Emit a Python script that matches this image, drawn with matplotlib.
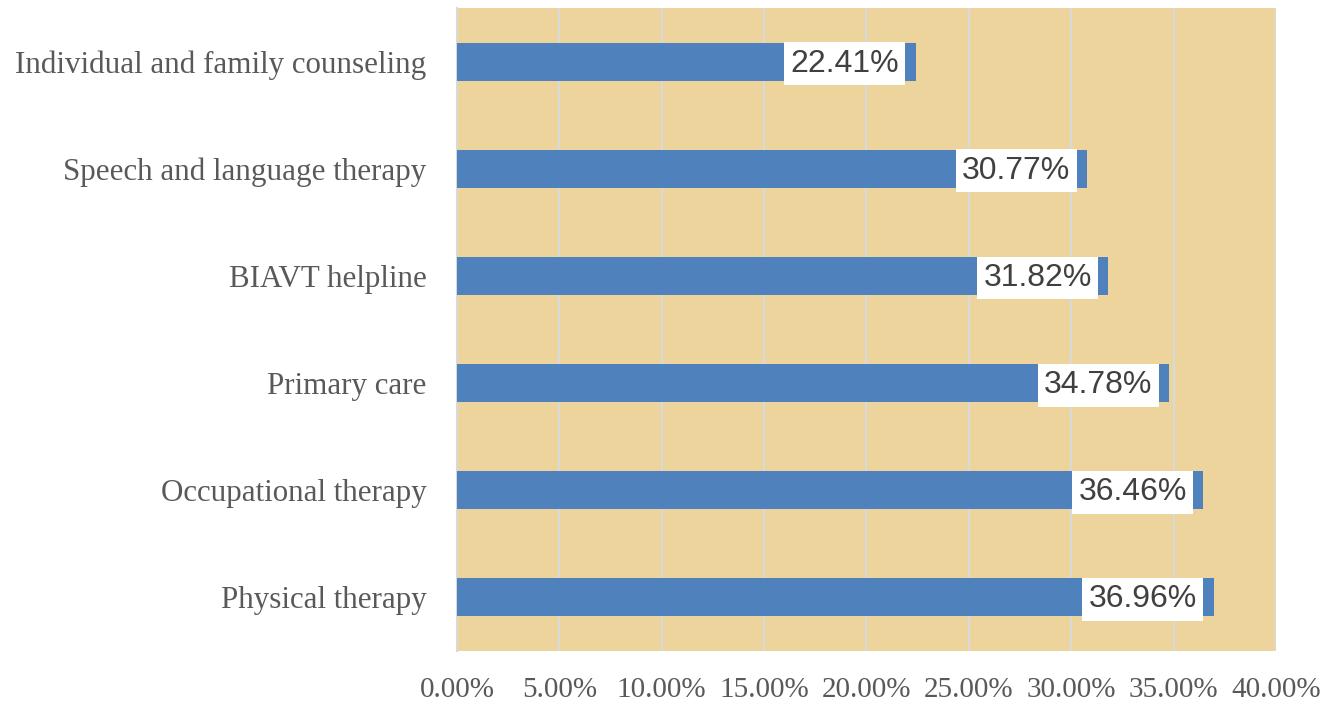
import matplotlib.pyplot as plt
from matplotlib.ticker import FuncFormatter

categories = [
    "Individual and family counseling",
    "Speech and language therapy",
    "BIAVT helpline",
    "Primary care",
    "Occupational therapy",
    "Physical therapy",
]
values = [22.41, 30.77, 31.82, 34.78, 36.46, 36.96]
xticks = [0, 5, 10, 15, 20, 25, 30, 35, 40]

fig = plt.figure(figsize=(13.23, 7.04), dpi=100, facecolor="white")
ax = fig.add_axes([0.3454, 0.0753, 0.619, 0.9133])
ax.set_facecolor("#ECD49C")

ypos = list(range(len(categories)))[::-1]
ax.barh(ypos, values, height=0.355, color="#4F81BD", zorder=3)

ax.set_xlim(0, 40)
ax.set_ylim(-0.5, len(categories) - 0.5)
ax.set_xticks(xticks)
ax.xaxis.set_major_formatter(FuncFormatter(lambda v, p: "{:.2f}%".format(v)))
ax.set_yticks(ypos)
ax.set_yticklabels(categories)

ax.grid(axis="x", color="#D9D9D9", linewidth=1.5, zorder=1)
ax.set_axisbelow(True)
for s in ["top", "right", "bottom"]:
    ax.spines[s].set_visible(False)
ax.spines["left"].set_color("#D9D9D9")
ax.spines["left"].set_linewidth(1.5)

ax.tick_params(axis="both", length=0, labelcolor="#595959")
ax.tick_params(axis="x", pad=19, labelsize=21)
ax.tick_params(axis="y", pad=22, labelsize=22.3)
for lab in ax.get_xticklabels() + ax.get_yticklabels():
    lab.set_fontfamily("Liberation Serif")

for y, v in zip(ypos, values):
    ax.annotate("{:.2f}%".format(v), xy=(v, y), xytext=(-12, -1.5),
                textcoords="offset points", ha="right", va="center",
                fontsize=23, color="#404040", family="Liberation Sans",
                zorder=4,
                bbox=dict(boxstyle="square,pad=0.2", facecolor="white",
                          edgecolor="none"))

fig.savefig("out.png", dpi=100, facecolor="white")
